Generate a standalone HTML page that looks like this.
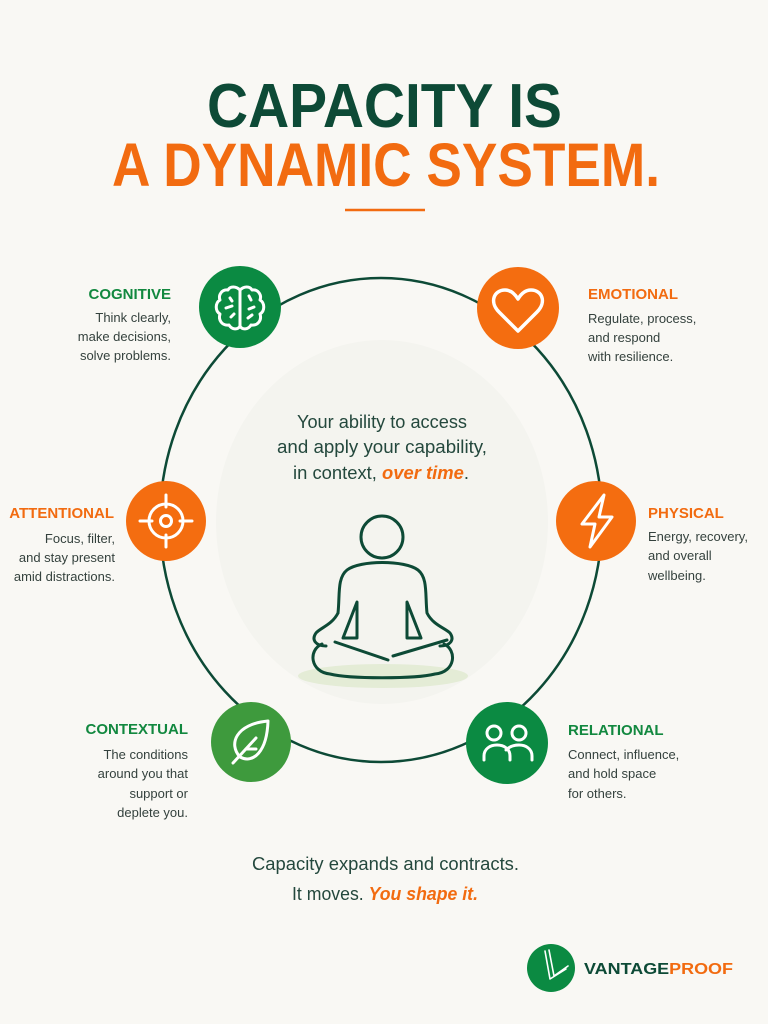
<!DOCTYPE html>
<html>
<head>
<meta charset="utf-8">
<style>
html,body{margin:0;padding:0;background:#f9f8f4;}
svg{display:block;}
text{font-family:"Liberation Sans",sans-serif;}
</style>
</head>
<body>
<svg width="768" height="1024" viewBox="0 0 768 1024" xmlns="http://www.w3.org/2000/svg">
  <rect width="768" height="1024" fill="#f9f8f4"/>

  <!-- Title -->
  <text x="207" y="127" font-size="62" font-weight="700" fill="#0d4a36" textLength="355" lengthAdjust="spacingAndGlyphs">CAPACITY IS</text>
  <text x="112" y="186" font-size="61" font-weight="700" fill="#f26b10" textLength="548" lengthAdjust="spacingAndGlyphs">A DYNAMIC SYSTEM.</text>
  <line x1="345" y1="210" x2="425" y2="210" stroke="#f26b10" stroke-width="2.5"/>

  <!-- faint inner disk -->
  <ellipse cx="382" cy="522" rx="166" ry="182" fill="#f4f4ef"/>

  <!-- main ring -->
  <ellipse cx="381" cy="520" rx="221" ry="242" fill="none" stroke="#0d4a36" stroke-width="2.5"/>

  <!-- center text -->
  <text x="297" y="428" font-size="18" fill="#24483d" textLength="170" lengthAdjust="spacingAndGlyphs">Your ability to access</text>
  <text x="277" y="453" font-size="18" fill="#24483d" textLength="210" lengthAdjust="spacingAndGlyphs">and apply your capability,</text>
  <text x="293" y="479" font-size="18" fill="#24483d" textLength="176" lengthAdjust="spacingAndGlyphs">in context, <tspan fill="#f26b10" font-style="italic" font-weight="700">over time</tspan>.</text>

  <!-- meditation figure -->
  <ellipse cx="383" cy="676" rx="85" ry="12" fill="#e4ecd6"/>
  <g fill="none" stroke="#0d4a36" stroke-width="3" stroke-linecap="round" stroke-linejoin="round">
    <circle cx="382" cy="537" r="21"/>
    <path d="M338,613 C340,595 337,578 347,570 C360,560 405,560 418,570 C428,578 425,595 427,613 C433,625 445,628 450,633 C455,640 450,646 440,646"/>
    <path d="M338,613 C332,625 320,628 316,633 C311,640 316,646 326,646"/>
    <path d="M322,644 C308,650 310,672 330,674 C350,679 415,679 435,674 C456,672 457,650 444,644"/>
    <path d="M357,602 L357,638 L343,638 Z"/>
    <path d="M407,602 L407,638 L421,638 Z"/>
    <path d="M335,642 L388,660"/>
    <path d="M393,656 L447,640"/>
  </g>

  <!-- COGNITIVE -->
  <circle cx="240" cy="307" r="41" fill="#0b8a42"/>
  <g fill="none" stroke="#fff" stroke-width="3" stroke-linecap="round" stroke-linejoin="round">
    <path d="M240,290 C236,286 230,286 228,290 C222,289 218,295 220,300 C215,303 215,311 220,314 C218,320 222,326 229,325 C232,330 238,330 240,326 Z"/>
    <path d="M240,290 C244,286 250,286 252,290 C258,289 262,295 260,300 C265,303 265,311 260,314 C262,320 258,326 251,325 C248,330 242,330 240,326 Z"/>
    <path d="M230,298 L232,301"/>
    <path d="M226,308 L232,306"/>
    <path d="M231,317 L234,314"/>
    <path d="M249,296 L251,300"/>
    <path d="M254,307 L249,309"/>
    <path d="M248,318 L252,315"/>
  </g>
  <text x="171" y="299" font-size="15" font-weight="700" fill="#12883f" text-anchor="end">COGNITIVE</text>
  <g font-size="13" fill="#34413d" text-anchor="end">
    <text x="171" y="322">Think clearly,</text>
    <text x="171" y="341">make decisions,</text>
    <text x="171" y="360">solve problems.</text>
  </g>

  <!-- EMOTIONAL -->
  <circle cx="518" cy="308" r="41" fill="#f46d10"/>
  <path d="M518,331 L499,312 C489,302 494,290 505,290 C511,290 515,294 518,299 C521,294 525,290 531,290 C542,290 547,302 537,312 Z" fill="none" stroke="#fff" stroke-width="3.5" stroke-linejoin="round"/>
  <text x="588" y="299" font-size="15" font-weight="700" fill="#f26b10">EMOTIONAL</text>
  <g font-size="13" fill="#34413d">
    <text x="588" y="323">Regulate, process,</text>
    <text x="588" y="342">and respond</text>
    <text x="588" y="361">with resilience.</text>
  </g>

  <!-- ATTENTIONAL -->
  <circle cx="166" cy="521" r="40" fill="#f46d10"/>
  <g fill="none" stroke="#fff" stroke-width="3" stroke-linecap="round">
    <circle cx="166" cy="521" r="17"/>
    <circle cx="166" cy="521" r="5.5"/>
    <path d="M140,521 L152,521 M180,521 L192,521 M166,495 L166,507 M166,535 L166,547"/>
  </g>
  <text x="114" y="518" font-size="15" font-weight="700" fill="#f26b10" text-anchor="end">ATTENTIONAL</text>
  <g font-size="13" fill="#34413d" text-anchor="end">
    <text x="115" y="543">Focus, filter,</text>
    <text x="115" y="562">and stay present</text>
    <text x="115" y="581">amid distractions.</text>
  </g>

  <!-- PHYSICAL -->
  <circle cx="596" cy="521" r="40" fill="#f46d10"/>
  <path d="M604,495 L582,524 L595,524 L590,547 L612,517 L599,517 Z" fill="none" stroke="#fff" stroke-width="3" stroke-linejoin="round"/>
  <text x="648" y="518" font-size="15" font-weight="700" fill="#f26b10">PHYSICAL</text>
  <g font-size="13" fill="#34413d">
    <text x="648" y="541">Energy, recovery,</text>
    <text x="648" y="560">and overall</text>
    <text x="648" y="580">wellbeing.</text>
  </g>

  <!-- CONTEXTUAL -->
  <circle cx="251" cy="742" r="40" fill="#3e9a3d"/>
  <g fill="none" stroke="#fff" stroke-width="3" stroke-linecap="round" stroke-linejoin="round">
    <path d="M240,757 C228,744 236,724 268,721 C267,752 253,764 240,757 Z"/>
    <path d="M233,763 L256,738"/>
    <path d="M246,749 L256,749"/>
  </g>
  <text x="188" y="734" font-size="15" font-weight="700" fill="#12883f" text-anchor="end">CONTEXTUAL</text>
  <g font-size="13" fill="#34413d" text-anchor="end">
    <text x="188" y="759">The conditions</text>
    <text x="188" y="778">around you that</text>
    <text x="188" y="798">support or</text>
    <text x="188" y="817">deplete you.</text>
  </g>

  <!-- RELATIONAL -->
  <circle cx="507" cy="743" r="41" fill="#0b8a42"/>
  <g fill="none" stroke="#fff" stroke-width="3" stroke-linecap="round" stroke-linejoin="round">
    <circle cx="494" cy="733" r="7"/>
    <circle cx="519" cy="733" r="7"/>
    <path d="M484,760 L484,756 C484,749 490,745 497,745 C504,745 510,749 510,756 L510,760"/>
    <path d="M506,750 C509,747 513,745 519,745 C526,745 532,749 532,756 L532,760"/>
  </g>
  <text x="568" y="735" font-size="15" font-weight="700" fill="#12883f">RELATIONAL</text>
  <g font-size="13" fill="#34413d">
    <text x="568" y="759">Connect, influence,</text>
    <text x="568" y="778">and hold space</text>
    <text x="568" y="798">for others.</text>
  </g>

  <!-- bottom text -->
  <text x="252" y="870" font-size="18" fill="#24483d" textLength="267" lengthAdjust="spacingAndGlyphs">Capacity expands and contracts.</text>
  <text x="292" y="900" font-size="18" fill="#24483d" textLength="186" lengthAdjust="spacingAndGlyphs">It moves. <tspan fill="#f26b10" font-style="italic" font-weight="700">You shape it.</tspan></text>

  <!-- logo -->
  <circle cx="551" cy="968" r="24" fill="#0b8a42"/>
  <g fill="none" stroke="#fff" stroke-width="1.6" stroke-linejoin="round" stroke-linecap="round">
    <path d="M545,951 L550,979 L566,969"/>
    <path d="M549,950 L554,976 L568,966"/>
  </g>
  <text x="584" y="974" font-size="16" font-weight="700" fill="#0d4a36" textLength="149" lengthAdjust="spacingAndGlyphs">VANTAGE<tspan fill="#f26b10">PROOF</tspan></text>
</svg>
</body>
</html>
